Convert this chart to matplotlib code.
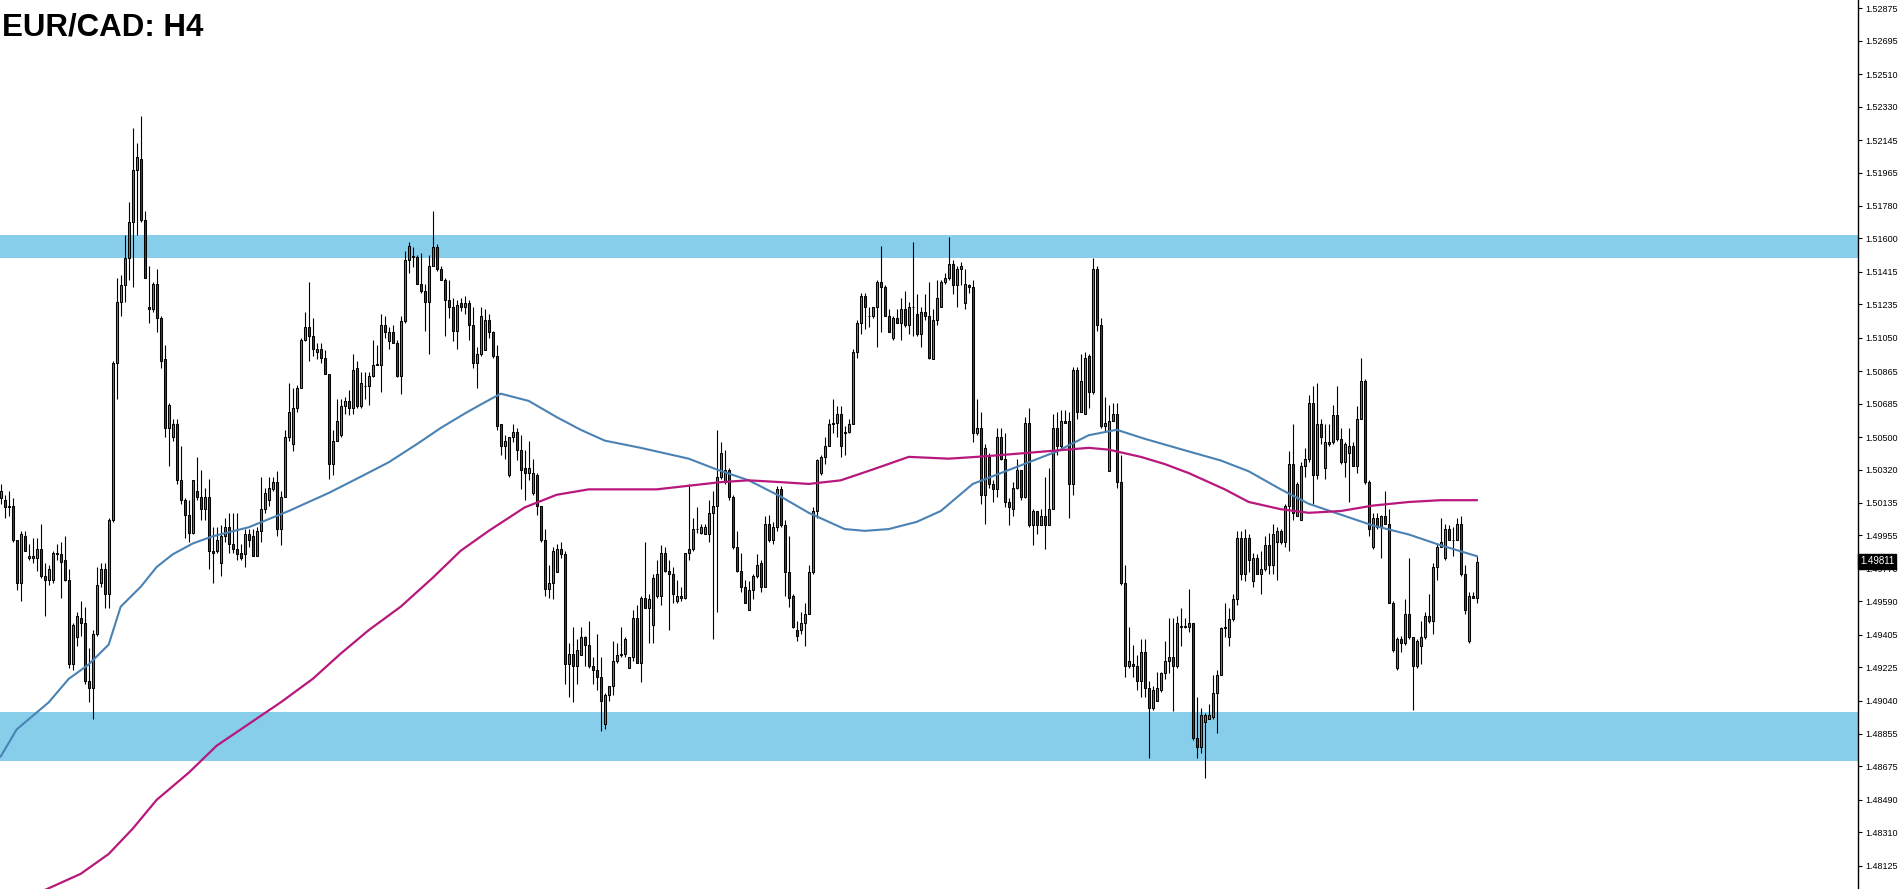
#!/usr/bin/env python3
# =============================================================================
# EUR/CAD H4 candlestick chart with two moving averages and S/R zones
# =============================================================================
import numpy as np
import matplotlib
matplotlib.use("Agg")
import matplotlib.pyplot as plt
from matplotlib.transforms import blended_transform_factory

TITLE = "EUR/CAD: H4"
LAST_PRICE = "1.49811"

# candle prices in pips (1e-4), one entry per H4 bar
opens = [
    15016, 15015, 15012, 15012, 14993, 14969, 14995, 14983, 14983, 14983,
    14988, 14973, 14971, 14971, 14986, 14985, 14982, 14971, 14924, 14939,
    14950, 14947, 14915, 14911, 14941, 14969, 14977, 14963, 15004, 15091,
    15125, 15134, 15149, 15169, 15198, 15204, 15170, 15122, 15121, 15135,
    15116, 15093, 15055, 15050, 15057, 15026, 15015, 15007, 14997, 15020,
    15017, 15010, 15017, 14987, 14987, 14980, 14995, 15000, 14991, 14988,
    14986, 14985, 14996, 14995, 14984, 14998, 15010, 15015, 15021, 15025,
    14999, 15017, 15050, 15046, 15066, 15077, 15104, 15111, 15106, 15097,
    15099, 15094, 15085, 15035, 15048, 15051, 15067, 15070, 15066, 15088,
    15067, 15078, 15078, 15084, 15090, 15090, 15112, 15103, 15108, 15102,
    15084, 15114, 15148, 15150, 15150, 15135, 15131, 15125, 15145, 15155,
    15143, 15137, 15126, 15122, 15109, 15124, 15122, 15124, 15112, 15091,
    15096, 15098, 15115, 15108, 15095, 15057, 15045, 15029, 15050, 15053,
    15043, 15033, 15030, 15019, 15029, 15012, 14993, 14966, 14969, 14975,
    14988, 14985, 14924, 14930, 14923, 14929, 14939, 14935, 14923, 14921,
    14917, 14891, 14907, 14912, 14926, 14929, 14930, 14922, 14928, 14950,
    14925, 14961, 14955, 14946, 14962, 14962, 14986, 14976, 14974, 14959,
    14962, 14961, 14986, 14988, 14999, 14997, 14996, 14996, 15008, 15012,
    15028, 15025, 15032, 15017, 14989, 14976, 14967, 14954, 14965, 14973,
    14980, 14967, 15002, 14993, 15000, 15021, 15001, 14975, 14962, 14943,
    14943, 14947, 14952, 14975, 15009, 15030, 15039, 15045, 15057, 15058,
    15063, 15052, 15053, 15057, 15097, 15113, 15128, 15117, 15117, 15122,
    15136, 15133, 15117, 15105, 15116, 15113, 15121, 15112, 15122, 15118,
    15107, 15119, 15117, 15093, 15115, 15122, 15136, 15138, 15146, 15134,
    15143, 15124, 15134, 15133, 15052, 15055, 15018, 15039, 15024, 15021,
    15050, 15038, 15014, 15010, 15022, 15032, 15017, 15058, 15001, 15009,
    15001, 15006, 15001, 15010, 15055, 15045, 15059, 15059, 15024, 15087,
    15064, 15063, 15095, 15075, 15143, 15112, 15056, 15031, 15059, 15063,
    15025, 14969, 14923, 14924, 14923, 14915, 14931, 14911, 14900, 14904,
    14910, 14919, 14926, 14928, 14923, 14945, 14945, 14945, 14947, 14883,
    14878, 14892, 14894, 14895, 14908, 14918, 14944, 14939, 14949, 14960,
    14994, 14974, 14994, 14970, 14983, 14974, 14977, 14990, 14979, 14992,
    14998, 14992, 15012, 15035, 15006, 15004, 15034, 15038, 15069, 15029,
    15057, 15033, 15047, 15047, 15062, 15049, 15036, 15041, 15045, 15034,
    15060, 15081, 15025, 14989, 15005, 15000, 15006, 15002, 14958, 14922,
    14938, 14936, 14952, 14939, 14923, 14934, 14939, 14951, 14948, 14978,
    14989, 14983, 14999, 14993, 14993, 15002, 14974, 14937, 14962, 14961,
]
highs = [
    15024, 15018, 15020, 15016, 14993, 14998, 14998, 14991, 14994, 14994,
    15002, 14980, 14979, 14987, 14991, 14992, 14995, 14977, 14947, 14953,
    14959, 14956, 14933, 14943, 14978, 14980, 14980, 15005, 15092, 15138,
    15140, 15162, 15180, 15221, 15213, 15228, 15175, 15145, 15136, 15143,
    15117, 15101, 15069, 15060, 15060, 15045, 15016, 15015, 15026, 15039,
    15032, 15022, 15027, 15000, 15000, 15001, 15005, 15008, 15008, 15008,
    14991, 14999, 14999, 14999, 15000, 15028, 15022, 15028, 15028, 15031,
    15020, 15054, 15080, 15077, 15079, 15105, 15119, 15136, 15116, 15102,
    15102, 15098, 15085, 15054, 15071, 15071, 15072, 15076, 15096, 15092,
    15086, 15086, 15086, 15104, 15101, 15118, 15117, 15111, 15112, 15104,
    15117, 15153, 15158, 15155, 15151, 15152, 15135, 15151, 15175, 15157,
    15145, 15138, 15137, 15127, 15126, 15127, 15128, 15126, 15122, 15100,
    15122, 15121, 15118, 15109, 15101, 15057, 15051, 15050, 15057, 15055,
    15051, 15043, 15048, 15038, 15030, 15012, 14999, 14979, 14989, 14991,
    14992, 14987, 14936, 14945, 14938, 14945, 14940, 14948, 14928, 14941,
    14928, 14908, 14912, 14937, 14936, 14945, 14939, 14928, 14954, 14957,
    14962, 14992, 14963, 14974, 14982, 14990, 14989, 14982, 14978, 14971,
    14967, 14986, 15024, 15005, 15011, 15002, 15002, 15015, 15020, 15054,
    15047, 15043, 15033, 15018, 14998, 14986, 14971, 14970, 14974, 14985,
    14982, 15006, 15007, 15003, 15023, 15023, 15004, 14995, 14963, 14948,
    14953, 14958, 14979, 15011, 15038, 15040, 15050, 15060, 15071, 15067,
    15067, 15056, 15060, 15099, 15115, 15130, 15130, 15122, 15122, 15137,
    15156, 15134, 15121, 15117, 15121, 15127, 15131, 15125, 15158, 15129,
    15122, 15129, 15136, 15121, 15137, 15137, 15141, 15161, 15148, 15145,
    15147, 15143, 15135, 15137, 15071, 15064, 15046, 15041, 15026, 15055,
    15055, 15052, 15016, 15025, 15038, 15032, 15061, 15066, 15010, 15009,
    15010, 15028, 15033, 15063, 15064, 15065, 15065, 15064, 15089, 15089,
    15096, 15097, 15096, 15149, 15145, 15116, 15072, 15068, 15069, 15069,
    15040, 14979, 14945, 14935, 14929, 14938, 14938, 14915, 14912, 14920,
    14920, 14937, 14950, 14950, 14951, 14955, 14950, 14966, 14947, 14906,
    14900, 14897, 14902, 14918, 14921, 14945, 14958, 14955, 14963, 14998,
    14998, 14999, 14996, 14986, 14985, 14987, 14995, 14997, 15002, 15000,
    14999, 15013, 15042, 15057, 15025, 15036, 15044, 15073, 15078, 15080,
    15060, 15057, 15057, 15068, 15078, 15055, 15047, 15055, 15047, 15067,
    15094, 15082, 15026, 15008, 15008, 15007, 15020, 15010, 14959, 14939,
    14940, 14960, 14983, 14939, 14938, 14948, 14953, 14963, 14980, 14991,
    15005, 15002, 15001, 15000, 15005, 15006, 14979, 14964, 14964, 14984,
]
lows = [
    15013, 15005, 15006, 14992, 14965, 14959, 14987, 14982, 14980, 14976,
    14972, 14951, 14968, 14969, 14982, 14961, 14970, 14922, 14921, 14934,
    14940, 14913, 14903, 14894, 14940, 14967, 14955, 14955, 15003, 15071,
    15117, 15125, 15137, 15133, 15162, 15169, 15138, 15113, 15119, 15108,
    15088, 15050, 15034, 15048, 15024, 15013, 14994, 14992, 14996, 15015,
    15004, 15004, 14977, 14969, 14986, 14973, 14992, 14986, 14986, 14982,
    14982, 14978, 14989, 14984, 14984, 14992, 15008, 15012, 15020, 14995,
    14990, 15017, 15048, 15042, 15064, 15077, 15103, 15092, 15095, 15093,
    15091, 15085, 15027, 15029, 15048, 15050, 15063, 15062, 15063, 15066,
    15066, 15071, 15068, 15083, 15090, 15075, 15105, 15099, 15102, 15083,
    15074, 15113, 15141, 15144, 15135, 15130, 15109, 15096, 15145, 15142,
    15137, 15106, 15116, 15103, 15099, 15120, 15118, 15104, 15088, 15077,
    15095, 15098, 15105, 15094, 15054, 15040, 15038, 15028, 15047, 15037,
    15021, 15015, 15026, 15018, 15007, 14992, 14962, 14961, 14960, 14975,
    14983, 14913, 14906, 14903, 14913, 14929, 14923, 14922, 14913, 14910,
    14887, 14888, 14904, 14907, 14925, 14928, 14928, 14922, 14926, 14925,
    14914, 14955, 14936, 14936, 14961, 14957, 14975, 14943, 14958, 14958,
    14959, 14960, 14982, 14987, 14997, 14996, 14996, 14992, 14938, 14953,
    15027, 15024, 15015, 14988, 14975, 14964, 14958, 14954, 14960, 14972,
    14964, 14967, 14992, 14991, 14998, 15000, 14962, 14956, 14944, 14937,
    14941, 14934, 14952, 14974, 15005, 15029, 15035, 15045, 15052, 15050,
    15039, 15040, 15052, 15057, 15094, 15107, 15110, 15111, 15116, 15100,
    15108, 15117, 15108, 15104, 15113, 15104, 15111, 15107, 15106, 15106,
    15100, 15115, 15093, 15093, 15112, 15122, 15135, 15137, 15129, 15122,
    15134, 15121, 15130, 15047, 15051, 15013, 15002, 15022, 15014, 15017,
    15037, 15011, 15001, 15006, 15021, 15015, 15016, 15000, 14990, 14996,
    15001, 14988, 15001, 15010, 15040, 15044, 15058, 15005, 15018, 15060,
    15064, 15063, 15066, 15074, 15109, 15055, 15053, 15031, 15059, 15022,
    14968, 14917, 14922, 14917, 14910, 14906, 14906, 14872, 14899, 14904,
    14909, 14916, 14919, 14898, 14922, 14934, 14944, 14942, 14882, 14872,
    14875, 14861, 14894, 14894, 14886, 14918, 14939, 14934, 14948, 14957,
    14971, 14970, 14975, 14967, 14974, 14963, 14976, 14974, 14974, 14971,
    14991, 14989, 14987, 15004, 15006, 15004, 15028, 15036, 15013, 15027,
    15046, 15027, 15045, 15046, 15048, 15035, 15028, 15014, 15034, 15030,
    15060, 15024, 14995, 14988, 14999, 14983, 15002, 14958, 14931, 14921,
    14931, 14935, 14938, 14899, 14922, 14924, 14938, 14947, 14941, 14971,
    14989, 14982, 14993, 14984, 14993, 14973, 14952, 14936, 14961, 14958,
]
closes = [
    15020, 15011, 15011, 14993, 14969, 14996, 14987, 14984, 14984, 14988,
    14973, 14971, 14977, 14986, 14985, 14981, 14971, 14924, 14946, 14951,
    14947, 14915, 14911, 14941, 14968, 14977, 14963, 15004, 15091, 15125,
    15134, 15149, 15169, 15198, 15205, 15170, 15138, 15121, 15135, 15116,
    15092, 15055, 15068, 15057, 15026, 15015, 15007, 14997, 15026, 15017,
    15010, 15017, 14987, 14986, 14993, 14995, 15000, 14991, 14988, 14985,
    14983, 14996, 14993, 14984, 14998, 15010, 15019, 15022, 15025, 14999,
    15017, 15050, 15064, 15066, 15077, 15104, 15111, 15106, 15099, 15099,
    15094, 15085, 15035, 15048, 15059, 15067, 15070, 15066, 15087, 15067,
    15080, 15078, 15084, 15090, 15090, 15112, 15108, 15108, 15102, 15084,
    15114, 15148, 15156, 15150, 15135, 15131, 15125, 15145, 15155, 15143,
    15137, 15126, 15122, 15109, 15123, 15122, 15124, 15112, 15091, 15096,
    15117, 15115, 15108, 15095, 15056, 15045, 15048, 15050, 15053, 15043,
    15032, 15030, 15033, 15030, 15012, 14993, 14966, 14969, 14987, 14988,
    14985, 14924, 14930, 14923, 14932, 14939, 14935, 14923, 14921, 14917,
    14904, 14907, 14912, 14926, 14929, 14930, 14938, 14928, 14950, 14925,
    14961, 14955, 14960, 14972, 14974, 14986, 14976, 14974, 14963, 14962,
    14961, 14986, 14988, 14999, 14999, 15000, 15000, 15008, 15012, 15028,
    15041, 15032, 15017, 14989, 14976, 14967, 14958, 14965, 14973, 14979,
    14967, 15002, 14993, 15000, 15021, 15001, 14975, 14961, 14945, 14940,
    14947, 14952, 14975, 15009, 15037, 15039, 15045, 15057, 15058, 15063,
    15045, 15053, 15057, 15097, 15113, 15128, 15122, 15117, 15122, 15136,
    15133, 15117, 15108, 15116, 15113, 15121, 15112, 15122, 15122, 15107,
    15119, 15117, 15094, 15115, 15127, 15136, 15138, 15146, 15134, 15143,
    15145, 15135, 15133, 15052, 15055, 15018, 15044, 15024, 15021, 15050,
    15038, 15014, 15011, 15022, 15032, 15017, 15058, 15001, 15009, 15001,
    15006, 15001, 15010, 15055, 15045, 15059, 15058, 15024, 15087, 15064,
    15081, 15094, 15075, 15143, 15112, 15056, 15058, 15059, 15063, 15025,
    14969, 14923, 14926, 14923, 14915, 14931, 14911, 14900, 14910, 14911,
    14919, 14926, 14928, 14923, 14947, 14945, 14945, 14947, 14883, 14878,
    14896, 14896, 14896, 14908, 14918, 14944, 14945, 14949, 14960, 14994,
    14974, 14994, 14982, 14983, 14974, 14977, 14990, 14979, 14996, 14998,
    14992, 15012, 15035, 15008, 15024, 15034, 15038, 15069, 15029, 15057,
    15050, 15047, 15046, 15062, 15049, 15036, 15046, 15045, 15034, 15060,
    15081, 15025, 14999, 15005, 15000, 15006, 15002, 14958, 14932, 14938,
    14936, 14952, 14939, 14923, 14937, 14939, 14951, 14948, 14978, 14989,
    14992, 14999, 14993, 14993, 15002, 14974, 14954, 14962, 14961, 14981,
]

# moving averages read at sample bars (bar index, value in pips)
fast_ma_idx = [0, 4, 12, 17, 22, 27, 30, 35, 39, 43, 48, 53, 62, 72, 82, 90,
               97, 104, 110, 116, 120, 125, 132, 139, 145, 151, 160, 166, 172,
               179, 187, 195, 202, 211, 216, 222, 229, 235, 243, 250, 257,
               264, 272, 279, 286, 297, 305, 312, 320, 327, 335, 343, 352,
               360, 369]
fast_ma_val = [14873, 14888, 14903, 14916, 14924, 14935, 14956, 14967, 14978,
               14985, 14991, 14995, 15000, 15009, 15019, 15028, 15036, 15046,
               15055, 15063, 15068, 15074, 15070, 15061, 15054, 15048, 15044,
               15041, 15038, 15032, 15026, 15017, 15008, 14999, 14998, 14999,
               15003, 15009, 15024, 15030, 15036, 15042, 15051, 15054, 15049,
               15042, 15037, 15031, 15021, 15013, 15007, 15001, 14996, 14990,
               14984]
slow_ma_idx = [11, 20, 27, 33, 39, 47, 54, 62, 70, 78, 85, 92, 100, 108, 115,
               122, 131, 139, 147, 156, 164, 172, 180, 187, 195, 202, 210,
               218, 227, 237, 244, 250, 261, 272, 277, 285, 291, 297, 306,
               312, 320, 327, 335, 343, 352, 360, 369]
slow_ma_val = [14799, 14808, 14819, 14833, 14849, 14864, 14879, 14891, 14903,
               14916, 14930, 14943, 14956, 14972, 14987, 14998, 15011, 15018,
               15021, 15021, 15021, 15023, 15025, 15026, 15025, 15024, 15026,
               15032, 15039, 15038, 15039, 15040, 15042, 15044, 15043, 15039,
               15035, 15030, 15021, 15014, 15010, 15008, 15009, 15012, 15014,
               15015, 15015]

# support / resistance zones
resistance_zone = (1.51491, 1.51618)
support_zone = (1.48704, 1.48976)

tick_labels = ["1.52875", "1.52695", "1.52510", "1.52330", "1.52145",
               "1.51965", "1.51780", "1.51600", "1.51415", "1.51235",
               "1.51050", "1.50865", "1.50685", "1.50500", "1.50320",
               "1.50135", "1.49955", "1.49770", "1.49590", "1.49405",
               "1.49225", "1.49040", "1.48855", "1.48675", "1.48490",
               "1.48310", "1.48125"]

GREEN = "#3f9a3f"
RED = "#9c1c1c"
ZONE = "#87ceeb"
FAST = "#4a82b4"
SLOW = "#b8187c"


def main():
    o = np.array(opens) / 1e4
    h = np.array(highs) / 1e4
    l = np.array(lows) / 1e4
    c = np.array(closes) / 1e4
    x = np.arange(len(c))

    fig = plt.figure(figsize=(19, 8.89), dpi=100)
    fig.patch.set_facecolor("white")
    ax = fig.add_axes([0, 0, 1858 / 1900, 1])

    ax.axhspan(*resistance_zone, color=ZONE, lw=0, zorder=0)
    ax.axhspan(*support_zone, color=ZONE, lw=0, zorder=0)

    # candles
    ax.vlines(x, l, h, color="black", lw=0.8, zorder=2)
    body = c - o
    body = np.where(np.abs(body) < 0.00002, 0.00002, body)
    up = c >= o
    ax.bar(x[up], body[up], bottom=o[up], width=0.55, color=GREEN,
           edgecolor="black", lw=0.75, zorder=3)
    ax.bar(x[~up], body[~up], bottom=o[~up], width=0.55, color=RED,
           edgecolor="black", lw=0.75, zorder=3)

    # moving averages
    ax.plot(fast_ma_idx, np.array(fast_ma_val) / 1e4, color=FAST, lw=1.5,
            zorder=4, solid_joinstyle="round")
    ax.plot(slow_ma_idx, np.array(slow_ma_val) / 1e4, color=SLOW, lw=1.6,
            zorder=4, solid_joinstyle="round")

    ax.set_xlim(-0.17, 464.3)
    ax.set_ylim(1.47996, 1.52921)

    for side in ["top", "bottom", "left"]:
        ax.spines[side].set_visible(False)
    ax.spines["right"].set_color("black")
    ax.spines["right"].set_linewidth(1.0)
    ax.set_xticks([])
    ax.yaxis.tick_right()
    ax.set_yticks([float(t) for t in tick_labels])
    ax.set_yticklabels(tick_labels, fontsize=6.5, family="Liberation Sans")
    ax.tick_params(axis="y", direction="out", length=3, width=0.8, pad=2,
                   colors="black")

    # last price marker
    trans = blended_transform_factory(ax.transAxes, ax.transData)
    ax.text(1.001, float(LAST_PRICE), LAST_PRICE, transform=trans,
            color="white", fontsize=7, family="Liberation Sans",
            va="center", ha="left", zorder=10, clip_on=False,
            bbox=dict(facecolor="black", edgecolor="black", pad=1.6))

    fig.text(2 / 1900, 1 - 36 / 889, TITLE, fontsize=22.5, fontweight="bold",
             family="Liberation Sans", va="baseline", ha="left")

    fig.savefig("out.png", dpi=100)


if __name__ == "__main__":
    main()
